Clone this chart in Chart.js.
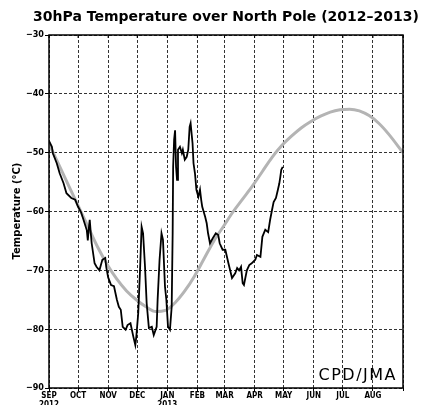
<!DOCTYPE html>
<html>
<head>
<meta charset="utf-8">
<script src="https://cdn.jsdelivr.net/npm/chart.js@4.4.0/dist/chart.umd.min.js"></script>
<style>
  html, body { margin: 0; padding: 0; background: #fff; }
  #wrap { width: 422px; height: 405px; }
</style>
</head>
<body>
<div id="wrap"><canvas id="tempChart" width="422" height="405"></canvas></div>
<script>
// days since 1 Sep 2012
const obsDays = [0, 3, 4, 8, 11, 15, 18, 23, 27, 30, 33, 35, 39, 40, 41, 42, 43, 44, 47, 49,
  52, 55, 58, 59, 61, 64, 67, 70, 72, 74, 76, 79, 81, 84, 87, 89, 90, 92, 94, 95.5,
  97, 99, 100.7, 103, 106, 108, 111, 112, 114, 116, 117.5, 119.6, 121, 122.7, 124.7, 126.5, 127.5, 128, 129, 130,
  131, 132, 133, 135, 137, 138, 140, 142, 143.6, 145, 146, 148, 149, 150.5, 152, 154, 155.7, 157, 158, 161,
  162.6, 164, 166, 169, 172, 174.5, 176, 179, 181.8, 185, 188.7, 192, 194, 196, 198, 199.7, 201, 204, 206.5, 209,
  212.7, 214.4, 218, 220, 223, 226, 228, 230, 231.6, 234, 236, 237.5, 238.5, 239.5, 241];
const obsTemps = [-48.0, -49, -50.1, -51.8, -53.5, -55.2, -56.9, -57.7, -58, -59.2, -60.1, -61.1, -63.2, -64.9, -63, -61.4, -63.5, -65.4, -68.8, -69.4,
  -70, -68.2, -67.9, -69.4, -71.2, -72.5, -72.7, -75, -76.2, -76.7, -79.6, -80.1, -79.3, -79, -81.3, -82.7, -81.3, -77.3, -69.4, -62.6,
  -63.7, -69.4, -75.6, -79.8, -79.6, -81, -79.6, -75, -68.2, -63.7, -64.8, -72.8, -75, -79.6, -80.1, -76.2, -63.7, -52.4, -47.8, -46.2,
  -52.4, -54.6, -49.5, -49, -50.1, -49.5, -51.2, -50.7, -49.5, -45.6, -45, -48.4, -51.8, -53.5, -56.3, -57.5, -56.3, -58.1, -59.2, -60.9,
  -62, -63.7, -65.4, -64.5, -63.7, -64, -65.4, -66.5, -66.5, -68.8, -71.3, -70.5, -69.6, -70, -69.4, -72.2, -72.5, -70, -69.1, -68.8,
  -68.2, -67.4, -67.7, -64.3, -63.1, -63.5, -61.4, -59.7, -58.4, -57.7, -56.3, -55.2, -54.1, -52.9, -52.4];

const climDays = [0, 10, 20, 30, 40, 50, 60, 70, 80, 90, 100, 110, 120, 130, 140, 150, 160, 170, 180, 190,
  200, 210, 220, 230, 240, 250, 260, 270, 280, 290, 300, 310, 320, 330, 340, 350, 365];
const climTemps = [-48.5, -52, -55.5, -59, -62.5, -66, -69, -71.5, -73.5, -75, -76.2, -77, -76.8, -75.5, -73.5, -71, -68, -65, -62.5, -60,
  -57.8, -55.6, -53.2, -50.8, -48.8, -47.2, -45.8, -44.7, -43.8, -43.1, -42.7, -42.6, -42.9, -43.7, -45, -46.8, -50];

const monthDays = [0, 30, 61, 91, 122, 153, 181, 212, 242, 273, 303, 334, 365];
const monthLabels = [['SEP', '2012'], 'OCT', 'NOV', 'DEC', ['JAN', '2013'], 'FEB', 'MAR', 'APR', 'MAY', 'JUN', 'JUL', 'AUG', ''];
const yTicks = [-90, -80, -70, -60, -50, -40, -30];

const titleText = '30hPa Temperature over North Pole (2012\u20132013)';
const yTitle = 'Temperature (\u00B0C)';
const creditText = 'CPD/JMA';

const toPoints = (xs, ys) => xs.map((x, i) => ({ x: x, y: ys[i] }));

const gridColor = '#333';
const tickFont = { family: 'DejaVu Sans Condensed', size: 9, weight: 'bold' };

const decorations = {
    id: 'decorations',
    afterDraw(chart) {
        const { ctx, chartArea: a, scales } = chart;
        ctx.save();
        // frame
        ctx.strokeStyle = '#000';
        ctx.lineWidth = 1.5;
        ctx.strokeRect(a.left, a.top, a.right - a.left, a.bottom - a.top);
        // small inward ticks at top
        ctx.lineWidth = 1;
        monthDays.forEach(d => {
            const x = scales.x.getPixelForValue(d);
            ctx.beginPath();
            ctx.moveTo(x, a.top);
            ctx.lineTo(x, a.top + 3);
            ctx.stroke();
        });
        // title
        ctx.fillStyle = '#000';
        ctx.font = 'bold 14px "DejaVu Sans"';
        ctx.textAlign = 'center';
        ctx.textBaseline = 'middle';
        ctx.fillText(titleText, 226, 17);
        // y title
        ctx.save();
        ctx.translate(17, 211);
        ctx.rotate(-Math.PI / 2);
        ctx.font = 'bold 10px "DejaVu Sans"';
        ctx.fillText(yTitle, 0, 0);
        ctx.restore();
        // credit
        ctx.font = '16px "DejaVu Sans"';
        ctx.letterSpacing = '1.5px';
        ctx.textAlign = 'right';
        ctx.fillText(creditText, 397, 376);
        ctx.restore();
    }
};

new Chart(document.getElementById('tempChart'), {
    type: 'line',
    data: {
        datasets: [{
            label: '2012-2013',
            data: toPoints(obsDays, obsTemps),
            borderColor: '#000',
            borderWidth: 1.8,
            pointRadius: 0,
            tension: 0
        }, {
            label: 'Climate',
            data: toPoints(climDays, climTemps),
            borderColor: '#b4b4b4',
            borderWidth: 3,
            pointRadius: 0,
            cubicInterpolationMode: 'monotone'
        }]
    },
    options: {
        responsive: false,
        animation: false,
        layout: { padding: { top: 35, right: 19, left: 0, bottom: 0 } },
        plugins: {
            legend: { display: false },
            tooltip: { enabled: false },
            title: { display: false }
        },
        scales: {
            x: {
                type: 'linear',
                min: 0,
                max: 365,
                afterBuildTicks: scale => { scale.ticks = monthDays.map(v => ({ value: v })); },
                afterFit: scale => { scale.height = 17; },
                ticks: {
                    autoSkip: false,
                    maxRotation: 0,
                    padding: 0,
                    color: '#000',
                    font: { family: 'DejaVu Sans Condensed', size: 8, weight: 'bold' },
                    callback: (v, i) => monthLabels[i]
                },
                grid: {
                    color: gridColor,
                    drawTicks: true,
                    tickLength: 3,
                    tickColor: '#000',
                    tickBorderDash: []
                },
                border: { display: false, dash: [3, 2] }
            },
            y: {
                min: -90,
                max: -30,
                afterBuildTicks: scale => { scale.ticks = yTicks.map(v => ({ value: v })); },
                afterFit: scale => { scale.width = 49; },
                ticks: {
                    padding: 1,
                    color: '#000',
                    font: tickFont,
                    callback: v => String(v).replace('-', '\u2212')
                },
                grid: {
                    color: gridColor,
                    drawTicks: true,
                    tickLength: 4,
                    tickColor: '#000',
                    tickBorderDash: []
                },
                border: { display: false, dash: [3, 2] }
            }
        }
    },
    plugins: [decorations]
});
</script>
</body>
</html>
